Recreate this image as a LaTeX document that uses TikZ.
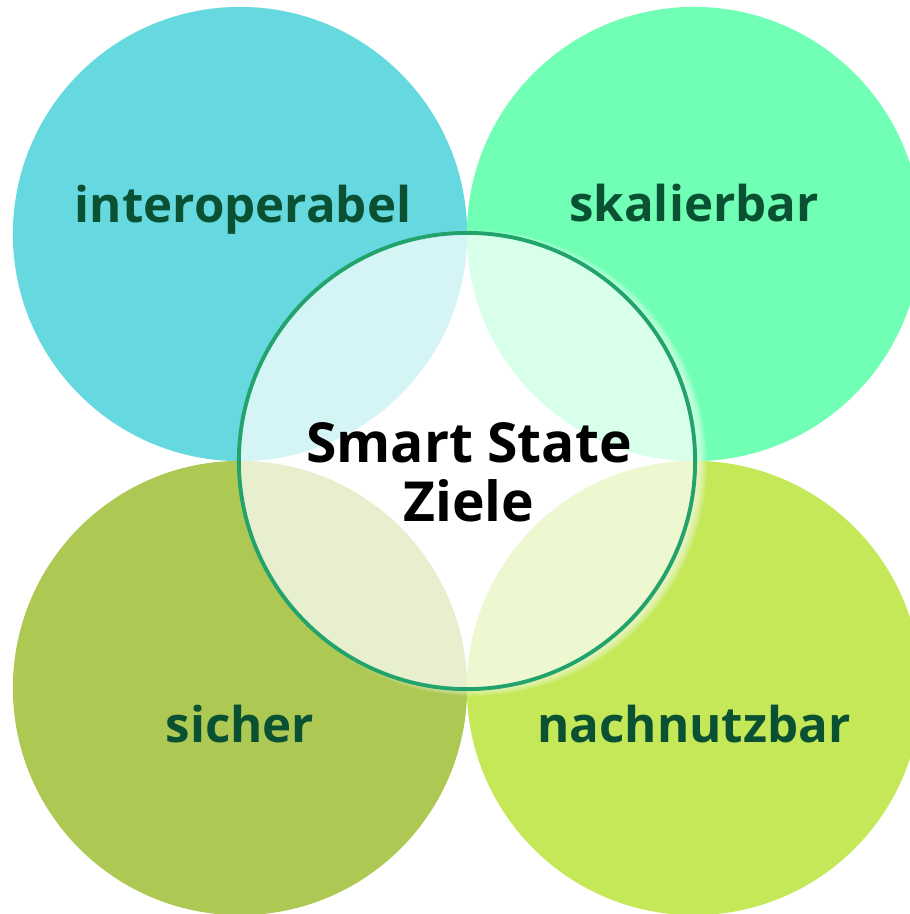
\documentclass[tikz,border=0pt]{standalone}
\usepackage{fontspec}
\setmainfont{Open Sans}
\usetikzlibrary{calc}
\definecolor{tealgoal}{RGB}{102,217,224}
\definecolor{mintgoal}{RGB}{112,255,180}
\definecolor{olivegoal}{RGB}{173,200,83}
\definecolor{limegoal}{RGB}{196,232,88}
\definecolor{goaltext}{RGB}{10,80,50}
\definecolor{ringgreen}{RGB}{34,163,107}
\tikzset{
	goal/.style={circle, minimum size=4.54cm, inner sep=0pt},
	goallabel/.style={anchor=base, text=goaltext, font=\fontsize{14}{16}\selectfont\bfseries},
}

\begin{document}
\begin{tikzpicture}[x=0.01cm, y=-0.01cm]
		%%%%% START %%%%%
		
		\fill[white] (0, 0) rectangle (910, 914);
		\useasboundingbox (0, 0) rectangle (910, 914);
		
		\node[goal, fill=tealgoal] (inter) at (240, 234) {};
		\node[goal, fill=mintgoal] (skal) at (694, 234) {};
		\node[goal, fill=olivegoal] (sicher) at (240, 688) {};
		\node[goal, fill=limegoal] (nach) at (694, 688) {};
		
		\node[goallabel] (interlabel) at ($(inter)+(3, -12)$) {interoperabel};
		\node[goallabel] (skallabel) at ($(skal)+(0, -13)$) {skalierbar};
		\node[goallabel] (sicherlabel) at ($(sicher)+(0, 54)$) {sicher};
		\node[goallabel] (nachlabel) at ($(nach)+(0, 54)$) {nachnutzbar};
		
		% soft glow on the right of the middle circle
		\begin{scope}
			\clip (0, 0) rectangle (910, 914) (467, 461) circle (228);
			\foreach \k in {226,...,233}
				\fill[white, opacity=0.1] (474, 463) circle (\k);
		\end{scope}
		
		\node[goal, minimum size=4.56cm, fill=white, fill opacity=0.72,
			draw=ringgreen, draw opacity=1, line width=1.1pt] (smart) at (467, 461) {};
		\node[align=center, font=\fontsize{15.7}{16.8}\selectfont\bfseries] (smarttext) at ($(smart)+(2, 11)$) {Smart State\\Ziele};
		
		%%%%% END %%%%%
	\end{tikzpicture}
\end{document}
